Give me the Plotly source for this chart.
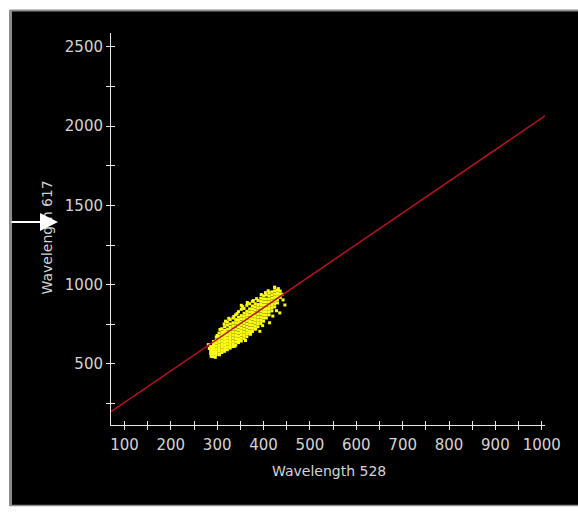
import plotly.graph_objects as go

# ---------------- data ----------------
x_ticks_major = [100, 200, 300, 400, 500, 600, 700, 800, 900, 1000]
y_ticks_major = [500, 1000, 1500, 2000, 2500]

fit_x = [71, 1007]
fit_y = [199, 2065]

wavelength_528 = [
    286, 286, 286, 286,
    292, 292, 292, 292, 292, 292,
    298, 298, 298, 298, 298, 298, 298,
    304, 304, 304, 304, 304, 304, 304, 304,
    310, 310, 310, 310, 310, 310, 310, 310, 310,
    316, 316, 316, 316, 316, 316, 316, 316, 316,
    322, 322, 322, 322, 322, 322, 322, 322, 322, 322,
    328, 328, 328, 328, 328, 328, 328, 328, 328, 328,
    334, 334, 334, 334, 334, 334, 334, 334, 334, 334,
    340, 340, 340, 340, 340, 340, 340, 340, 340, 340,
    346, 346, 346, 346, 346, 346, 346, 346, 346, 346,
    352, 352, 352, 352, 352, 352, 352, 352, 352, 352,
    358, 358, 358, 358, 358, 358, 358, 358, 358, 358,
    364, 364, 364, 364, 364, 364, 364, 364, 364, 364,
    370, 370, 370, 370, 370, 370, 370, 370, 370, 370,
    376, 376, 376, 376, 376, 376, 376, 376, 376, 376,
    382, 382, 382, 382, 382, 382, 382, 382, 382,
    388, 388, 388, 388, 388, 388, 388, 388, 388,
    394, 394, 394, 394, 394, 394, 394, 394, 394,
    400, 400, 400, 400, 400, 400, 400, 400, 400,
    406, 406, 406, 406, 406, 406, 406, 406,
    412, 412, 412, 412, 412, 412, 412, 412,
    418, 418, 418, 418, 418, 418, 418,
    424, 424, 424, 424, 424, 424, 424,
    430, 430, 430, 430, 430,
    436, 436, 436,
    442, 446, 435, 413, 392, 424, 432, 440, 283, 287,
    296, 318, 336, 352, 378, 404, 370, 338, 345, 300,
    306, 315, 325, 355, 365, 385, 395, 410, 350, 372,
    398, 420, 428, 290, 305, 281, 313, 343, 361, 383,
]
wavelength_617 = [
    565, 580, 595, 610,
    562, 578, 594, 610, 626, 642,
    560, 578, 596, 614, 632, 650, 670,
    565, 585, 603, 620, 638, 655, 673, 695,
    572, 590, 610, 628, 646, 664, 682, 700, 722,
    580, 598, 617, 636, 655, 673, 692, 712, 735,
    590, 608, 627, 645, 663, 682, 700, 720, 745, 765,
    600, 617, 636, 655, 673, 692, 711, 730, 752, 780,
    610, 628, 646, 665, 684, 703, 722, 741, 760, 790,
    620, 640, 660, 680, 700, 720, 740, 760, 780, 810,
    635, 655, 675, 695, 715, 735, 755, 775, 795, 830,
    645, 665, 685, 705, 725, 745, 765, 785, 805, 845,
    660, 680, 700, 720, 740, 760, 780, 800, 820, 850,
    672, 692, 712, 732, 752, 772, 792, 812, 832, 870,
    690, 708, 728, 748, 768, 788, 808, 828, 848, 880,
    705, 725, 745, 765, 785, 805, 825, 845, 865, 895,
    720, 740, 760, 780, 800, 820, 840, 860, 880,
    735, 755, 775, 795, 815, 835, 855, 875, 900,
    755, 775, 795, 815, 835, 855, 875, 895, 915,
    770, 790, 810, 830, 850, 870, 890, 910, 930,
    790, 810, 830, 850, 870, 890, 910, 935,
    810, 830, 850, 870, 890, 910, 930, 950,
    835, 855, 875, 895, 915, 935, 955,
    860, 880, 900, 920, 940, 960, 980,
    885, 905, 925, 945, 965,
    920, 940, 960,
    904, 872, 822, 760, 706, 985, 975, 940, 598, 548,
    542, 770, 800, 870, 900, 950, 705, 612, 640, 680,
    718, 752, 788, 862, 888, 912, 938, 962, 648, 688,
    742, 802, 836, 546, 558, 622, 700, 818, 648, 722,
]

# ---------------- layout geometry (pixels) ----------------
W, H = 578, 512
L, R, T, B = 111, 33, 33, 87
PW, PH = W - L - R, H - T - B


def px(x):
    return (x - L) / PW


def py(y):
    return (H - B - y) / PH


axis_col = "#e6e6e6"
text_col = "#d4d4d4"
border_col = "#8c8c8c"
font_fam = "DejaVu Sans"

fig = go.Figure()

fig.add_trace(go.Scatter(
    x=wavelength_528, y=wavelength_617, mode="markers",
    marker=dict(symbol="square", size=3, color="#ffff14", line=dict(width=0)),
    showlegend=False,
))
fig.add_trace(go.Scatter(
    x=fit_x, y=fit_y, mode="lines",
    line=dict(color="#b3141f", width=1.5),
    showlegend=False, hoverinfo="skip",
))
# helper trace so the overlay axes (inner half of crossing ticks) render
fig.add_trace(go.Scatter(x=[None], y=[None], xaxis="x2", yaxis="y2",
                         showlegend=False, hoverinfo="skip"))

xr = [71, 1007]
yr = [115, 2588]

fig.update_layout(
    width=W, height=H,
    margin=dict(l=L, r=R, t=T, b=B, autoexpand=False),
    paper_bgcolor="white",
    plot_bgcolor="black",
    font=dict(family=font_fam, size=14, color=text_col),
    xaxis=dict(
        range=xr, showgrid=False, zeroline=False,
        showline=True, linecolor=axis_col, linewidth=1,
        ticks="outside", ticklen=4, tickcolor=axis_col, tickwidth=1,
        tickvals=x_ticks_major, ticktext=[str(v) for v in x_ticks_major],
        ticklabelstandoff=2,
        minor=dict(dtick=50, tick0=0, ticks="outside", ticklen=4,
                   tickcolor=axis_col, tickwidth=1, showgrid=False),
        tickfont=dict(family=font_fam, size=15, color=text_col),
    ),
    yaxis=dict(
        range=yr, showgrid=False, zeroline=False,
        showline=True, linecolor=axis_col, linewidth=1,
        ticks="outside", ticklen=4, tickcolor=axis_col, tickwidth=1,
        tickvals=y_ticks_major, ticktext=[str(v) for v in y_ticks_major],
        minor=dict(dtick=250, tick0=0, ticks="outside", ticklen=4,
                   tickcolor=axis_col, tickwidth=1, showgrid=False),
        tickfont=dict(family=font_fam, size=15, color=text_col),
    ),
    xaxis2=dict(
        range=xr, overlaying="x", anchor="y", side="bottom",
        showgrid=False, zeroline=False, showline=False,
        ticks="inside", ticklen=4, tickcolor=axis_col, tickwidth=1,
        dtick=50, tick0=0, showticklabels=False,
    ),
    yaxis2=dict(
        range=yr, overlaying="y", anchor="x", side="left",
        showgrid=False, zeroline=False, showline=False,
        ticks="inside", ticklen=4, tickcolor=axis_col, tickwidth=1,
        dtick=250, tick0=0, showticklabels=False,
    ),
    shapes=[
        dict(type="rect", xref="paper", yref="paper", layer="below",
             x0=px(10), x1=px(600), y0=py(10), y1=py(506),
             fillcolor="black", line=dict(width=0)),
        dict(type="line", xref="paper", yref="paper", layer="below",
             x0=px(10), x1=px(600), y0=py(10.5), y1=py(10.5),
             line=dict(color=border_col, width=2)),
        dict(type="line", xref="paper", yref="paper", layer="below",
             x0=px(10.5), x1=px(10.5), y0=py(10), y1=py(506),
             line=dict(color=border_col, width=3)),
        dict(type="line", xref="paper", yref="paper", layer="below",
             x0=px(10), x1=px(600), y0=py(505.5), y1=py(505.5),
             line=dict(color=border_col, width=1.5)),
    ],
    annotations=[
        dict(text="Wavelength 528", xref="paper", yref="paper",
             x=px(329), y=py(471), showarrow=False,
             xanchor="center", yanchor="middle",
             font=dict(family=font_fam, size=14, color=text_col)),
        dict(text="Wavelength 617", xref="paper", yref="paper",
             x=px(46.5), y=py(238), showarrow=False, textangle=-90,
             xanchor="center", yanchor="middle",
             font=dict(family=font_fam, size=14, color=text_col)),
        dict(text="", xref="paper", yref="paper",
             x=px(58), y=py(222), showarrow=True,
             ax=-48, ay=0, axref="pixel", ayref="pixel",
             arrowhead=2, arrowsize=1.8, arrowwidth=2,
             arrowcolor="white", standoff=0),
    ],
)

fig.write_html(
    "out.html",
    config={"displayModeBar": False},
    post_script="document.body.style.margin='0';document.body.style.overflow='hidden';",
)
